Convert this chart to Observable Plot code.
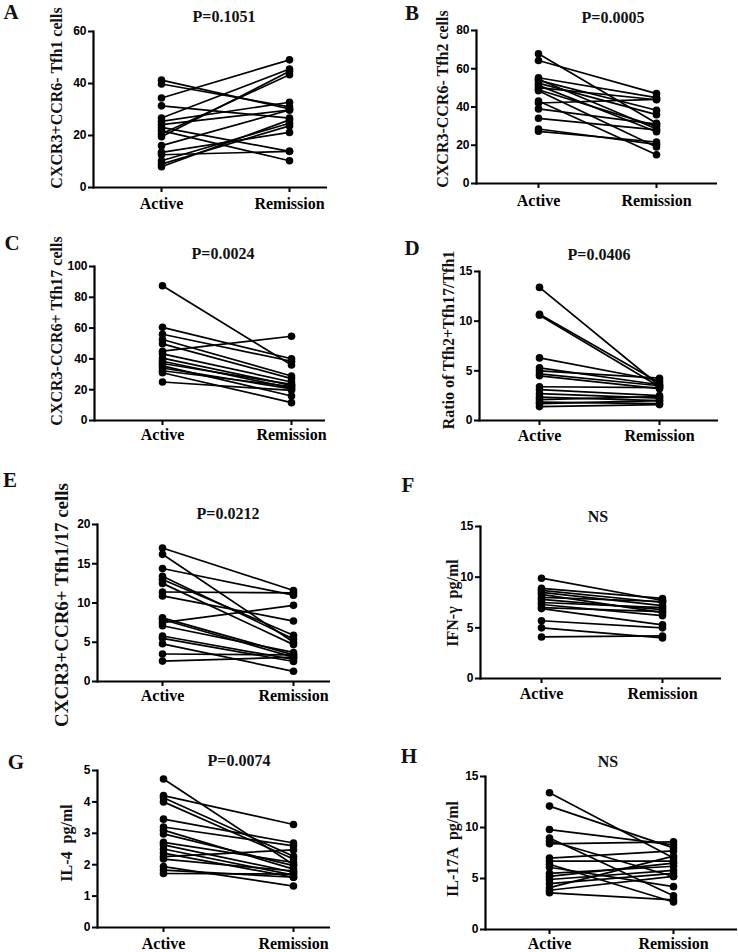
<!DOCTYPE html>
<html><head><meta charset="utf-8">
<script src="https://cdn.jsdelivr.net/npm/d3@7"></script>
<script src="https://cdn.jsdelivr.net/npm/@observablehq/plot@0.6"></script>
<style>
body{margin:0;background:#fff;}
#fig{position:relative;width:738px;height:952px;overflow:hidden;font-family:"Liberation Serif","Times New Roman",serif;color:#111;}
.p{position:absolute;}
.lt{position:absolute;font-weight:bold;font-size:21px;line-height:0.8;transform:translate(-50%,-50%);}
.tt{position:absolute;font-weight:bold;font-size:16px;line-height:1.1;transform:translate(-50%,-50%);white-space:pre;}
.yl{position:absolute;font-weight:bold;font-size:16px;line-height:1.1;white-space:pre;transform:translate(-50%,-50%) rotate(-90deg);}
</style>
</head><body>
<div id="fig"></div>
<script>
// ---- data ----
const groups = ["Active", "Remission"];

const aActive    = [41.3, 39.8, 34.4, 31.4, 26.7, 25.4, 24.2, 23.1, 21.9, 20.6, 19.5, 16.1, 13.5, 12.6, 10.3, 9.0, 8.0];
const aRemission = [30.2, 31.0, 49.1, 26.7, 45.6, 32.8, 29.8, 13.9, 10.3, 43.4, 44.7, 29.8, 21.2, 13.9, 24.7, 23.7, 26.0];

const bActive    = [67.8, 64.3, 55.3, 54.5, 53.9, 52.5, 51.3, 50.1, 49.0, 48.5, 43.1, 42.1, 39.0, 34.1, 28.5, 27.3];
const bRemission = [31.5, 47.0, 44.9, 28.5, 38.3, 36.0, 27.1, 43.8, 29.9, 19.1, 15.0, 44.0, 31.0, 28.0, 20.5, 21.7];

const cActive    = [87.5, 60.5, 56.0, 52.6, 49.8, 45.0, 43.3, 40.5, 38.5, 37.0, 35.5, 34.1, 32.3, 31.0, 25.0];
const cRemission = [36.0, 40.1, 38.5, 28.9, 27.2, 54.7, 25.0, 22.8, 21.1, 23.5, 15.9, 20.5, 22.0, 11.6, 19.6];

const dActive    = [13.4, 10.7, 10.6, 6.3, 5.3, 5.0, 4.7, 4.5, 3.4, 3.1, 2.7, 2.35, 2.1, 1.85, 1.7, 1.4];
const dRemission = [3.5, 3.8, 3.4, 4.0, 3.6, 4.26, 3.5, 3.2, 3.3, 2.5, 2.25, 2.0, 2.4, 1.7, 2.0, 1.6];

const eActive    = [17.0, 16.2, 14.4, 13.4, 13.0, 12.5, 11.4, 10.9, 8.1, 7.9, 7.5, 7.1, 5.8, 5.5, 4.8, 3.5, 2.6];
const eRemission = [11.6, 5.0, 11.0, 5.4, 5.9, 4.7, 11.3, 7.7, 3.4, 3.1, 9.7, 3.7, 2.8, 2.55, 1.3, 3.4, 3.1];

const fActive    = [9.9, 8.9, 8.7, 8.5, 8.3, 8.0, 7.8, 7.5, 7.3, 7.0, 6.9, 5.7, 5.0, 4.1];
const fRemission = [7.7, 7.9, 7.5, 7.2, 6.5, 7.6, 6.8, 7.0, 6.2, 6.6, 5.3, 5.0, 4.0, 4.2];

const gActive    = [4.73, 4.2, 4.13, 4.0, 3.45, 3.2, 3.1, 2.98, 2.71, 2.63, 2.5, 2.37, 2.26, 2.18, 1.94, 1.83, 1.72];
const gRemission = [2.0, 3.28, 2.27, 2.18, 2.69, 2.6, 1.86, 1.97, 2.07, 1.76, 1.67, 1.6, 2.47, 1.8, 1.32, 1.6, 1.7];

const hActive    = [13.4, 12.1, 9.8, 8.97, 8.7, 8.4, 7.0, 6.7, 6.4, 6.1, 5.5, 5.2, 4.9, 4.5, 4.1, 3.85, 3.6];
const hRemission = [7.0, 8.0, 8.3, 3.3, 5.2, 8.6, 7.7, 6.7, 2.7, 4.2, 6.2, 6.5, 5.8, 5.5, 7.2, 5.2, 2.9];

const panelLetters = ["A", "B", "C", "D", "E", "F", "G", "H"];
const pTitles = ["P=0.1051", "P=0.0005", "P=0.0024", "P=0.0406", "P=0.0212", "NS", "P=0.0074", "NS"];
const yLabels = ["CXCR3+CCR6- Tfh1 cells", "CXCR3-CCR6- Tfh2 cells", "CXCR3-CCR6+ Tfh17 cells",
  "Ratio of Tfh2+Tfh17/Tfh1", "CXCR3+CCR6+ Tfh1/17 cells", "IFN-γ  pg/ml", "IL-4  pg/ml", "IL-17A  pg/ml"];
const yMax = [60, 80, 100, 15, 20, 15, 5, 15];
const yTicks = [[0,20,40,60],[0,20,40,60,80],[0,20,40,60,80,100],[0,5,10,15],[0,5,10,15,20],[0,5,10,15],[0,1,2,3,4,5],[0,5,10,15]];
const activeSeries = [aActive, bActive, cActive, dActive, eActive, fActive, gActive, hActive];
const remissionSeries = [aRemission, bRemission, cRemission, dRemission, eRemission, fRemission, gRemission, hRemission];

// ---- layout (pixels) ----
const layout = [
  {left:0,   top:0,   w:335, h:215, ml:93,  mr:8,  mt:31, mb:28, xa:161, xr:289, pad:6, letter:[11,12],  title:[224,17],  yl:[57,98],   ylSize:16},
  {left:369, top:0,   w:369, h:215, ml:107, mr:21, mt:30, mb:32, xa:538, xr:656, pad:7, letter:[412,13], title:[613,18],  yl:[443,99],  ylSize:16},
  {left:0,   top:222, w:335, h:228, ml:94,  mr:10, mt:44, mb:30, xa:162, xr:291, pad:4, letter:[12,243], title:[223,254], yl:[57,331],  ylSize:16},
  {left:369, top:222, w:369, h:228, ml:110, mr:20, mt:49, mb:30, xa:539, xr:659, pad:5, letter:[412,248],title:[599,255], yl:[449,340], ylSize:16},
  {left:0,   top:450, w:335, h:255, ml:97,  mr:5,  mt:74, mb:24, xa:162, xr:293, pad:4, letter:[10,480], title:[228,514], yl:[62,605],  ylSize:19},
  {left:369, top:450, w:369, h:255, ml:111, mr:17, mt:76, mb:27, xa:541, xr:662, pad:5, letter:[408,485],title:[598,517], yl:[453,603], ylSize:16},
  {left:0,   top:740, w:335, h:212, ml:97,  mr:5,  mt:30, mb:25, xa:163, xr:293, pad:6, letter:[16,762], title:[239,761], yl:[67,843],  ylSize:16},
  {left:369, top:740, w:369, h:212, ml:116, mr:1,  mt:36, mb:23, xa:549, xr:673, pad:4, letter:[409,756],title:[608,762], yl:[453,849], ylSize:16}
];

const fig = document.getElementById("fig");
const ink = "#000";

layout.forEach((L, k) => {
  const rows = [];
  activeSeries[k].forEach((v, i) => {
    rows.push({id: i, group: groups[0], value: v});
    rows.push({id: i, group: groups[1], value: remissionSeries[k][i]});
  });
  const chart = Plot.plot({
    width: L.w, height: L.h,
    marginLeft: L.ml, marginRight: L.mr, marginTop: L.mt, marginBottom: L.mb,
    style: {background: "transparent", color: ink, overflow: "visible"},
    x: {type: "point", domain: groups, range: [L.xa - L.left, L.xr - L.left], padding: 0, label: null},
    y: {domain: [0, yMax[k]], label: null},
    marks: [
      Plot.frame({anchor: "left", stroke: ink, strokeOpacity: 1, strokeWidth: 2.2}),
      Plot.ruleY([0], {stroke: ink, strokeOpacity: 1, strokeWidth: 2.2}),
      Plot.axisY({ticks: yTicks[k], tickSize: 5, tickPadding: 2, tickFormat: d => String(d),
        fontSize: 12, fontFamily: "Liberation Sans, Arial, sans-serif", fontWeight: "bold",
        stroke: ink, strokeOpacity: 1, strokeWidth: 2, label: null}),
      Plot.axisX({tickSize: 5, tickPadding: L.pad - 1, fontSize: 16,
        fontFamily: "Liberation Serif, Times New Roman, serif", fontWeight: "bold",
        stroke: ink, strokeOpacity: 1, strokeWidth: 2, label: null}),
      Plot.line(rows, {x: "group", y: "value", z: "id", stroke: ink, strokeWidth: 1.7}),
      Plot.dot(rows, {x: "group", y: "value", r: 3.8, fill: ink, stroke: null})
    ]
  });
  chart.classList.add("p");
  chart.style.left = L.left + "px";
  chart.style.top = L.top + "px";
  fig.appendChild(chart);

  const lt = document.createElement("div");
  lt.className = "lt";
  lt.textContent = panelLetters[k];
  lt.style.left = L.letter[0] + "px"; lt.style.top = L.letter[1] + "px";
  fig.appendChild(lt);

  const tt = document.createElement("div");
  tt.className = "tt";
  tt.textContent = pTitles[k];
  tt.style.left = L.title[0] + "px"; tt.style.top = L.title[1] + "px";
  fig.appendChild(tt);

  const yl = document.createElement("div");
  yl.className = "yl";
  yl.textContent = yLabels[k];
  yl.style.left = L.yl[0] + "px"; yl.style.top = L.yl[1] + "px";
  yl.style.fontSize = L.ylSize + "px";
  fig.appendChild(yl);
});
</script>
</body></html>
